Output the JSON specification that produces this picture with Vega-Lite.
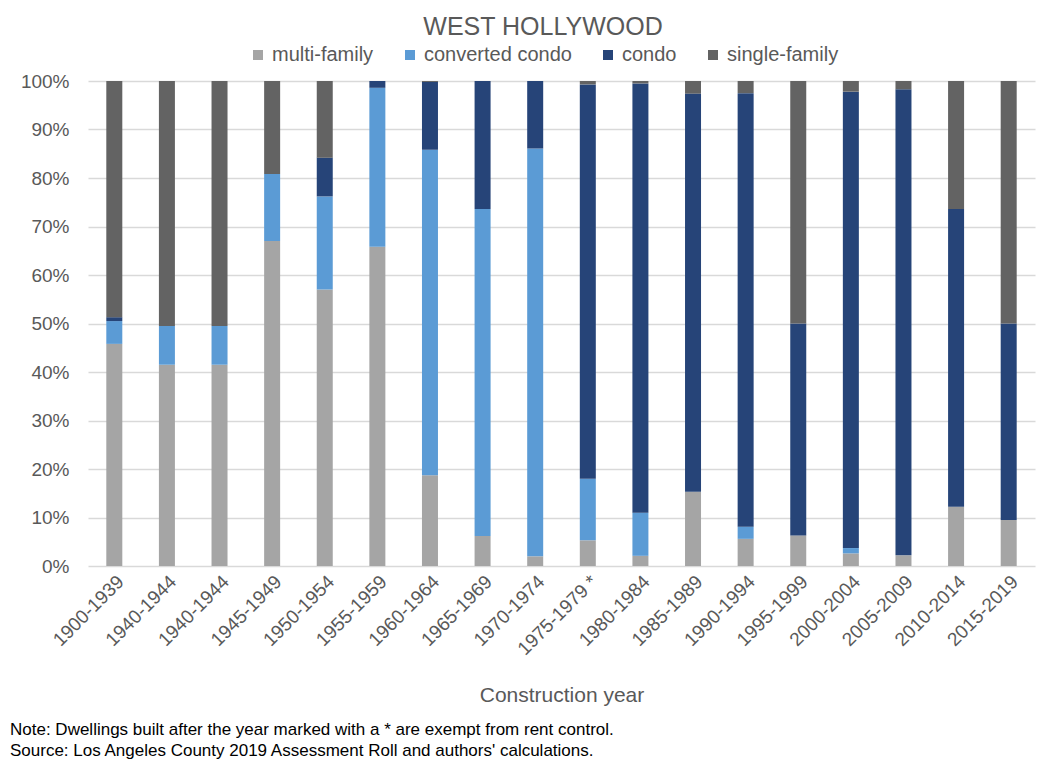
{
  "$schema": "https://vega.github.io/schema/vega-lite/v6.json",
  "autosize": {"type": "none"},
  "width": 947,
  "height": 485,
  "padding": {"left": 88, "top": 81, "right": 23, "bottom": 201},
  "background": "white",
  "title": {
    "text": ["Note: Dwellings built after the year marked with a * are exempt from rent control.", "Source: Los Angeles County 2019 Assessment Roll and authors' calculations."],
    "orient": "bottom",
    "anchor": "start",
    "frame": "group",
    "dx": -78,
    "offset": 16,
    "font": "Liberation Sans",
    "fontSize": 17,
    "fontWeight": "normal",
    "color": "#000000",
    "lineHeight": 21
  },
  "data": {
    "values": [
      {"bar": "1900-1939", "type": "multi-family", "share": 45.8},
      {"bar": "1900-1939", "type": "converted condo", "share": 4.7},
      {"bar": "1900-1939", "type": "condo", "share": 0.8},
      {"bar": "1900-1939", "type": "single-family", "share": 48.7},
      {"bar": "1940-1944", "type": "multi-family", "share": 41.5},
      {"bar": "1940-1944", "type": "converted condo", "share": 8.0},
      {"bar": "1940-1944", "type": "condo", "share": 0},
      {"bar": "1940-1944", "type": "single-family", "share": 50.5},
      {"bar": "1940-1944 #2", "type": "multi-family", "share": 41.5},
      {"bar": "1940-1944 #2", "type": "converted condo", "share": 8.0},
      {"bar": "1940-1944 #2", "type": "condo", "share": 0},
      {"bar": "1940-1944 #2", "type": "single-family", "share": 50.5},
      {"bar": "1945-1949", "type": "multi-family", "share": 67.0},
      {"bar": "1945-1949", "type": "converted condo", "share": 13.8},
      {"bar": "1945-1949", "type": "condo", "share": 0},
      {"bar": "1945-1949", "type": "single-family", "share": 19.2},
      {"bar": "1950-1954", "type": "multi-family", "share": 57.0},
      {"bar": "1950-1954", "type": "converted condo", "share": 19.2},
      {"bar": "1950-1954", "type": "condo", "share": 8.0},
      {"bar": "1950-1954", "type": "single-family", "share": 15.8},
      {"bar": "1955-1959", "type": "multi-family", "share": 65.8},
      {"bar": "1955-1959", "type": "converted condo", "share": 32.8},
      {"bar": "1955-1959", "type": "condo", "share": 1.4},
      {"bar": "1955-1959", "type": "single-family", "share": 0},
      {"bar": "1960-1964", "type": "multi-family", "share": 18.7},
      {"bar": "1960-1964", "type": "converted condo", "share": 67.1},
      {"bar": "1960-1964", "type": "condo", "share": 14.0},
      {"bar": "1960-1964", "type": "single-family", "share": 0.2},
      {"bar": "1965-1969", "type": "multi-family", "share": 6.2},
      {"bar": "1965-1969", "type": "converted condo", "share": 67.4},
      {"bar": "1965-1969", "type": "condo", "share": 26.4},
      {"bar": "1965-1969", "type": "single-family", "share": 0},
      {"bar": "1970-1974", "type": "multi-family", "share": 2.0},
      {"bar": "1970-1974", "type": "converted condo", "share": 84.1},
      {"bar": "1970-1974", "type": "condo", "share": 13.9},
      {"bar": "1970-1974", "type": "single-family", "share": 0},
      {"bar": "1975-1979 *", "type": "multi-family", "share": 5.3},
      {"bar": "1975-1979 *", "type": "converted condo", "share": 12.7},
      {"bar": "1975-1979 *", "type": "condo", "share": 81.3},
      {"bar": "1975-1979 *", "type": "single-family", "share": 0.7},
      {"bar": "1980-1984", "type": "multi-family", "share": 2.1},
      {"bar": "1980-1984", "type": "converted condo", "share": 8.9},
      {"bar": "1980-1984", "type": "condo", "share": 88.5},
      {"bar": "1980-1984", "type": "single-family", "share": 0.5},
      {"bar": "1985-1989", "type": "multi-family", "share": 15.3},
      {"bar": "1985-1989", "type": "converted condo", "share": 0},
      {"bar": "1985-1989", "type": "condo", "share": 82.1},
      {"bar": "1985-1989", "type": "single-family", "share": 2.6},
      {"bar": "1990-1994", "type": "multi-family", "share": 5.6},
      {"bar": "1990-1994", "type": "converted condo", "share": 2.5},
      {"bar": "1990-1994", "type": "condo", "share": 89.4},
      {"bar": "1990-1994", "type": "single-family", "share": 2.5},
      {"bar": "1995-1999", "type": "multi-family", "share": 6.3},
      {"bar": "1995-1999", "type": "converted condo", "share": 0},
      {"bar": "1995-1999", "type": "condo", "share": 43.7},
      {"bar": "1995-1999", "type": "single-family", "share": 50.0},
      {"bar": "2000-2004", "type": "multi-family", "share": 2.6},
      {"bar": "2000-2004", "type": "converted condo", "share": 1.1},
      {"bar": "2000-2004", "type": "condo", "share": 94.1},
      {"bar": "2000-2004", "type": "single-family", "share": 2.2},
      {"bar": "2005-2009", "type": "multi-family", "share": 2.2},
      {"bar": "2005-2009", "type": "converted condo", "share": 0},
      {"bar": "2005-2009", "type": "condo", "share": 96.1},
      {"bar": "2005-2009", "type": "single-family", "share": 1.7},
      {"bar": "2010-2014", "type": "multi-family", "share": 12.2},
      {"bar": "2010-2014", "type": "converted condo", "share": 0},
      {"bar": "2010-2014", "type": "condo", "share": 61.4},
      {"bar": "2010-2014", "type": "single-family", "share": 26.4},
      {"bar": "2015-2019", "type": "multi-family", "share": 9.5},
      {"bar": "2015-2019", "type": "converted condo", "share": 0},
      {"bar": "2015-2019", "type": "condo", "share": 40.5},
      {"bar": "2015-2019", "type": "single-family", "share": 50.0}
    ]
  },
  "transform": [
    {"calculate": "indexof(['multi-family', 'converted condo', 'condo', 'single-family'], datum.type)", "as": "stackRank"}
  ],
  "mark": {"type": "bar", "width": 16},
  "encoding": {
    "x": {
      "field": "bar",
      "type": "nominal",
      "sort": null,
      "scale": {"paddingInner": 0.7, "paddingOuter": 0.35},
      "axis": {
        "title": "Construction year",
        "titleFont": "Liberation Sans",
        "titleFontSize": 21,
        "titleFontWeight": "normal",
        "titleColor": "#595959",
        "titlePadding": 26,
        "labelExpr": "split(datum.label, ' #')[0]",
        "labelAngle": -45,
        "labelFont": "Liberation Sans",
        "labelFontSize": 19,
        "labelColor": "#595959",
        "labelPadding": 6,
        "ticks": false,
        "domain": false,
        "grid": false
      }
    },
    "y": {
      "field": "share",
      "type": "quantitative",
      "stack": "normalize",
      "scale": {"domain": [0, 1]},
      "axis": {
        "title": null,
        "format": ".0%",
        "values": [0, 0.1, 0.2, 0.3, 0.4, 0.5, 0.6, 0.7, 0.8, 0.9, 1],
        "labelFont": "Liberation Sans",
        "labelFontSize": 19,
        "labelColor": "#595959",
        "labelPadding": 19,
        "ticks": false,
        "domain": false,
        "grid": true,
        "gridColor": "#D9D9D9",
        "gridWidth": 1.3
      }
    },
    "color": {
      "field": "type",
      "type": "nominal",
      "sort": ["multi-family", "converted condo", "condo", "single-family"],
      "scale": {
        "domain": ["multi-family", "converted condo", "condo", "single-family"],
        "range": ["#A5A5A5", "#5B9BD5", "#264478", "#636363"]
      },
      "legend": {
        "title": "WEST HOLLYWOOD",
        "orient": "none",
        "legendX": 160,
        "legendY": -66,
        "direction": "horizontal",
        "titleOrient": "top",
        "titleAnchor": "middle",
        "titleLimit": 1000,
        "labelLimit": 400,
        "titleFont": "Liberation Sans",
        "titleFontSize": 25,
        "titleFontWeight": "normal",
        "titleColor": "#595959",
        "titlePadding": 5,
        "symbolType": "square",
        "symbolSize": 100,
        "symbolStrokeWidth": 0,
        "labelFont": "Liberation Sans",
        "labelFontSize": 20,
        "labelColor": "#595959",
        "labelOffset": 4,
        "columnPadding": 26
      }
    },
    "order": {"field": "stackRank", "type": "quantitative", "sort": "ascending"}
  },
  "config": {"view": {"stroke": null}}
}
